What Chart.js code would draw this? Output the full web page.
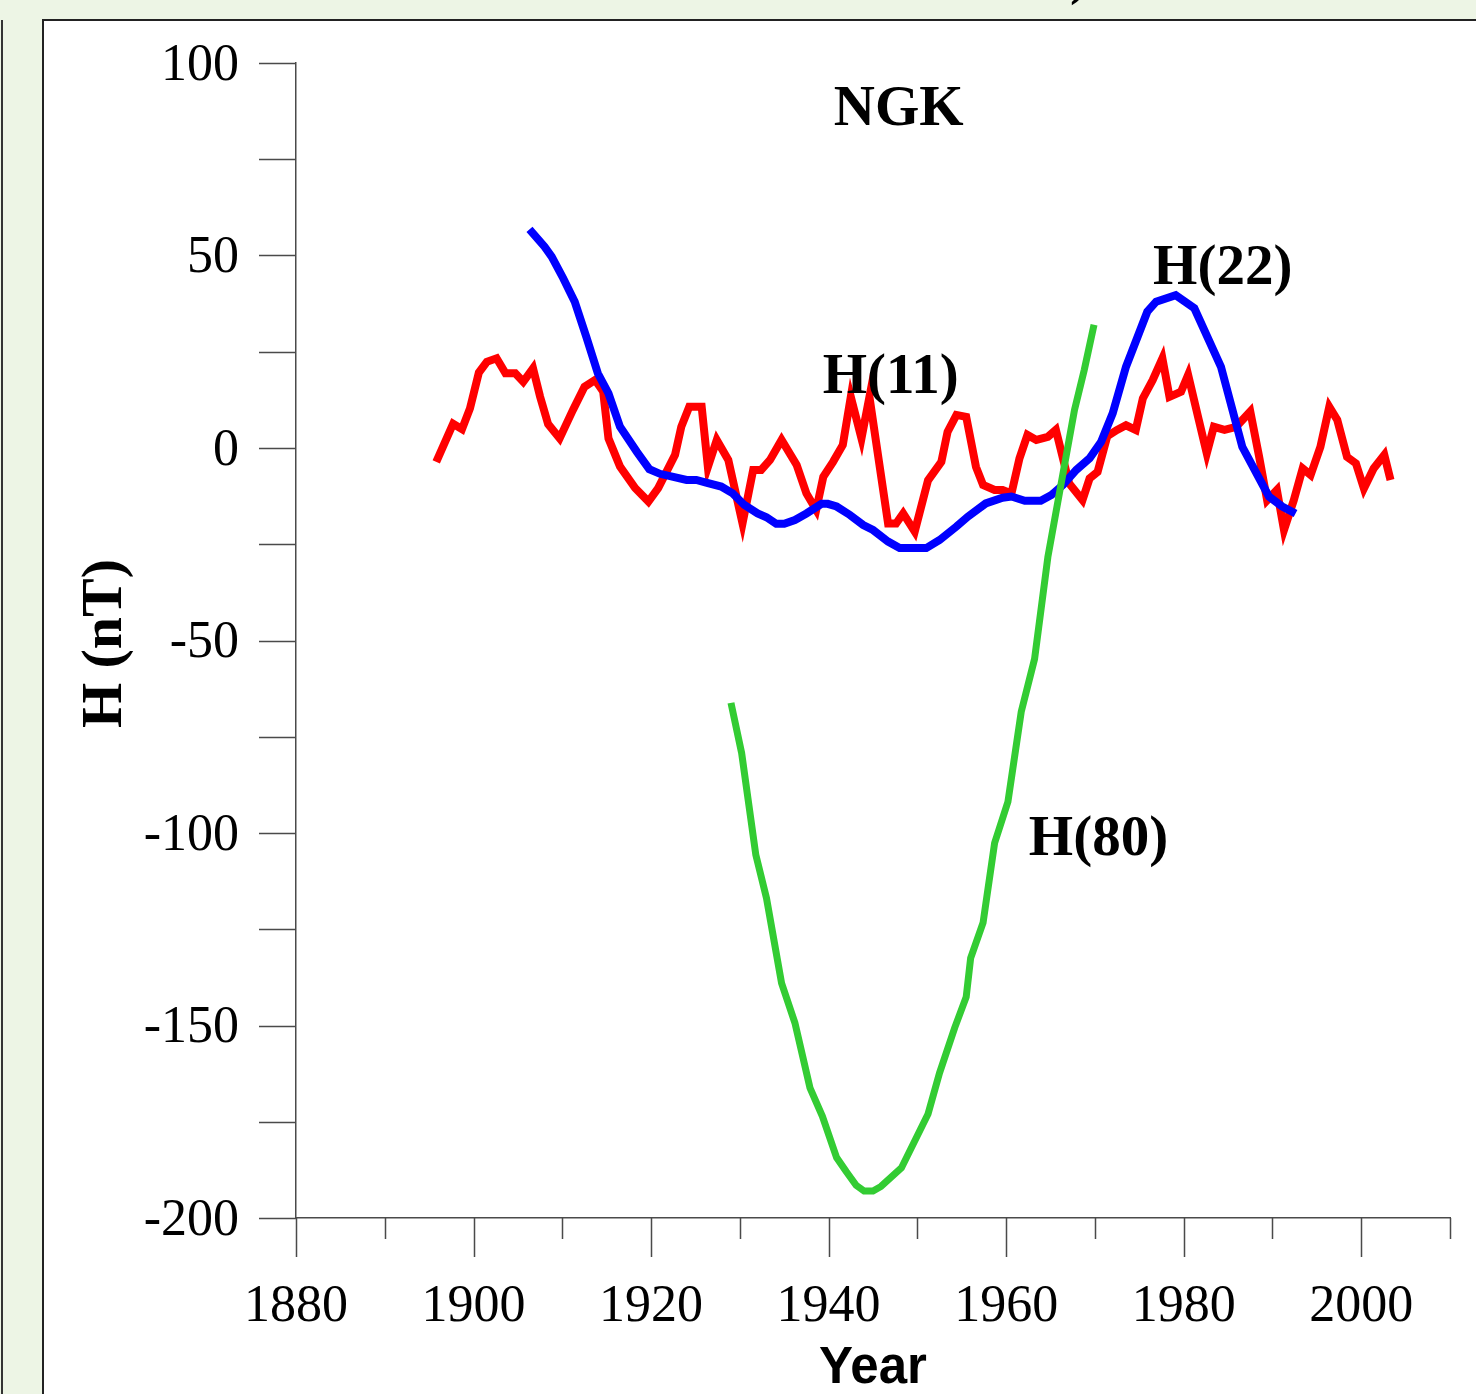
<!DOCTYPE html>
<html>
<head>
<meta charset="utf-8">
<title>NGK – H(11), H(22), H(80)</title>
<script src="https://cdn.jsdelivr.net/npm/chart.js@4.4.0/dist/chart.umd.min.js"></script>
<style>
  html, body { margin: 0; padding: 0; }
  body {
    position: relative;
    width: 1476px;
    height: 1394px;
    overflow: hidden;
    background: #edf5e5;
  }
  #side-rule {
    position: absolute;
    left: 1px; top: 20px;
    width: 2px; height: 1380px;
    background: #333;
  }
  #panel {
    position: absolute;
    left: 42px; top: 19px;
    width: 1460px; height: 1400px;
    background: #fff;
    border-left: 2px solid #222;
    border-top: 2px solid #222;
  }
  #cut-title {
    position: absolute;
    left: 1070px; top: -54px;
    font: bold 56px/56px "Liberation Serif", "Times New Roman", serif;
    color: #000;
  }
  #chart {
    position: absolute;
    left: 0; top: 0;
  }
</style>
</head>
<body>
<div id="side-rule"></div>
<div id="panel"></div>
<div id="cut-title">)</div>
<canvas id="chart" width="1476" height="1394"></canvas>

<script>
// =============================================
// Data (year, H in nT)
// =============================================
const h11Years = [
  1895.8, 1897.7, 1898.7, 1899.6, 1900.6, 1901.5, 1902.6, 1903.6, 1904.7, 1905.6,
  1906.7, 1907.5, 1908.4, 1909.7, 1911.2, 1912.5, 1913.7, 1914.6, 1915.2, 1916.5,
  1918.2, 1919.7, 1920.8, 1922.7, 1923.4, 1924.3, 1925.7, 1926.4, 1927.4, 1928.7,
  1930.3, 1931.5, 1932.4, 1933.4, 1934.7, 1936.4, 1937.5, 1938.6, 1939.4, 1940.5,
  1941.6, 1942.5, 1943.7, 1944.6, 1946.7, 1947.6, 1948.4, 1949.7, 1951.2, 1952.7,
  1953.4, 1954.4, 1955.5, 1956.6, 1957.4, 1958.7, 1959.6, 1960.6, 1961.5, 1962.4,
  1963.4, 1964.7, 1965.6, 1967.1, 1968.6, 1969.4, 1970.3, 1971.4, 1972.5, 1973.5,
  1974.6, 1975.4, 1976.5, 1977.6, 1978.4, 1979.7, 1980.5, 1981.7, 1982.6, 1983.4,
  1984.6, 1985.9, 1987.5, 1988.5, 1989.4, 1990.5, 1991.3, 1992.4, 1993.4, 1994.3,
  1995.4, 1996.4, 1997.3, 1998.4, 1999.4, 2000.3, 2001.4, 2002.6, 2003.3
];
const h11Values = [
  -3.6, 6.3, 4.9, 10.3, 19.6, 22.4, 23.3, 19.4, 19.4, 17.2,
  20.7, 13.3, 6.2, 2.5, 9.9, 15.9, 17.7, 14.7, 2.5, -4.8,
  -10.4, -13.9, -10.4, -1.8, 5.5, 10.7, 10.7, -4.9, 2.1, -3.1,
  -19.6, -5.7, -5.7, -3.1, 2.1, -4.4, -11.8, -16.1, -7.5, -3.6,
  0.8, 13.3, 2.5, 13.3, -19.6, -19.6, -17.0, -21.7, -8.4, -3.6,
  4.2, 8.6, 8.1, -4.9, -9.6, -10.9, -10.9, -11.8, -2.7, 3.4,
  2.1, 2.9, 4.7, -9.2, -13.5, -7.9, -6.2, 3.1, 4.7, 5.9,
  4.7, 12.9, 17.6, 23.3, 13.3, 14.6, 19.0, 7.3, -1.4, 5.5,
  4.7, 5.5, 9.5, -2.3, -13.6, -10.9, -21.3, -13.6, -5.3, -7.0,
  0.3, 10.7, 7.3, -2.3, -4.0, -10.5, -5.3, -1.8, -8.3
];

const h22Years = [
  1906.3, 1908.0, 1908.8, 1910.1, 1911.4, 1912.7, 1914.0, 1915.2, 1916.5, 1918.4,
  1919.8, 1921.0, 1922.5, 1924.0, 1925.1, 1926.2, 1927.9, 1929.2, 1930.5, 1932.0,
  1933.0, 1934.1, 1935.0, 1936.2, 1937.5, 1939.2, 1939.9, 1940.9, 1942.4, 1943.9,
  1945.0, 1946.7, 1948.0, 1951.0, 1952.5, 1954.4, 1955.7, 1957.7, 1959.6, 1960.6,
  1962.1, 1963.9, 1965.1, 1966.4, 1967.9, 1969.4, 1970.7, 1972.0, 1973.5, 1975.9,
  1976.9, 1979.1, 1981.2, 1984.2, 1986.6, 1989.6, 1991.1, 1992.6
];
const h22Values = [
  56.8, 52.3, 49.7, 44.1, 38.0, 28.9, 19.4, 14.2, 5.5, -1.0,
  -5.5, -6.7, -7.5, -8.3, -8.3, -9.0, -10.0, -11.8, -14.8, -17.0,
  -18.0, -19.7, -19.7, -18.7, -17.0, -14.5, -14.5, -15.2, -17.4, -20.0,
  -21.3, -24.3, -26.0, -26.0, -23.9, -20.4, -17.8, -14.4, -12.9, -12.6,
  -13.7, -13.7, -12.2, -9.6, -5.7, -2.7, 1.6, 9.0, 21.1, 35.4,
  38.0, 39.7, 36.3, 21.1, 0.3, -12.6, -15.2, -17.0
];

const h80Years = [
  1929.0, 1930.2, 1931.8, 1933.0, 1934.7, 1936.2, 1937.9, 1939.3, 1940.9, 1942.0,
  1943.1, 1944.0, 1945.0, 1945.9, 1948.2, 1951.2, 1952.5, 1954.2, 1955.5, 1956.0,
  1957.4, 1958.7, 1960.2, 1961.7, 1963.2, 1964.7, 1966.0, 1967.7, 1968.8, 1969.9
];
const h80Values = [
  -66.2, -79.2, -105.7, -116.9, -139.0, -149.3, -166.2, -173.6, -184.3, -188.0,
  -191.5, -193.0, -193.0, -191.8, -187.0, -173.0, -162.3, -150.6, -142.6, -132.5,
  -123.3, -102.6, -91.9, -68.5, -54.8, -28.3, -11.7, 9.9, 20.3, 32.0
];

// Text drawn inside the plot, anchored in data units (centre, baseline)
const plotLabels = [
  { text: 'NGK',   year: 1947.9, value: 84.0 },
  { text: 'H(11)', year: 1947.0, value: 14.3 },
  { text: 'H(22)', year: 1984.4, value: 42.6 },
  { text: 'H(80)', year: 1970.4, value: -105.7 }
];

const SERIF = '"Liberation Serif", "Times New Roman", serif';
const SANS  = '"Liberation Sans", Arial, sans-serif';
const AXIS_COLOR = '#4a4a4a';

function toPoints(xs, ys) {
  return xs.map((x, i) => ({ x, y: ys[i] }));
}

// =============================================
// Tick marks, axis titles and in-plot labels
// =============================================
const decorPlugin = {
  id: 'decor',
  afterDraw(chart) {
    const { ctx, chartArea, scales: { x, y } } = chart;
    ctx.save();

    // tick marks: long ones every 20 years, short ones in between
    ctx.strokeStyle = AXIS_COLOR;
    ctx.lineWidth = 1.5;
    ctx.beginPath();
    x.ticks.forEach(t => {
      const px = Math.round(x.getPixelForValue(t.value)) + 0.5;
      const len = t.value % 20 === 0 ? 39 : 21;
      ctx.moveTo(px, chartArea.bottom);
      ctx.lineTo(px, chartArea.bottom + len);
    });
    y.ticks.forEach(t => {
      const py = Math.round(y.getPixelForValue(t.value)) + 0.5;
      ctx.moveTo(chartArea.left - 37, py);
      ctx.lineTo(chartArea.left, py);
    });
    ctx.stroke();

    // axis titles
    ctx.fillStyle = '#000';
    ctx.textAlign = 'center';
    ctx.textBaseline = 'alphabetic';
    ctx.font = `bold 51px ${SANS}`;
    ctx.fillText('Year', (chartArea.left + chartArea.right) / 2, 1383);

    ctx.save();
    ctx.translate(121, (chartArea.top + chartArea.bottom) / 2 + 3);
    ctx.rotate(-Math.PI / 2);
    ctx.font = `bold 58px ${SERIF}`;
    ctx.fillText('H (nT)', 0, 0);
    ctx.restore();

    // station name and curve names
    ctx.font = `bold 57px ${SERIF}`;
    plotLabels.forEach(l => {
      ctx.fillText(l.text, x.getPixelForValue(l.year), y.getPixelForValue(l.value));
    });

    ctx.restore();
  }
};

// =============================================
// Chart
// =============================================
const lineStyle = {
  fill: false,
  tension: 0,
  pointRadius: 0,
  pointHoverRadius: 0,
  borderCapStyle: 'butt',
  borderJoinStyle: 'miter'
};

new Chart(document.getElementById('chart'), {
  type: 'line',
  data: {
    datasets: [
      { ...lineStyle, label: 'H(80)', data: toPoints(h80Years, h80Values), borderColor: '#33cc33', borderWidth: 7, order: 1 },
      { ...lineStyle, label: 'H(22)', data: toPoints(h22Years, h22Values), borderColor: '#0000ff', borderWidth: 8, order: 2 },
      { ...lineStyle, label: 'H(11)', data: toPoints(h11Years, h11Values), borderColor: '#ff0000', borderWidth: 8, order: 3 }
    ]
  },
  options: {
    responsive: false,
    animation: false,
    devicePixelRatio: 1,
    parsing: false,
    layout: { padding: { top: 63, right: 26, left: 0, bottom: 0 } },
    plugins: {
      legend: { display: false },
      tooltip: { enabled: false }
    },
    scales: {
      x: {
        type: 'linear',
        min: 1880,
        max: 2010,
        afterFit: (s) => { s.height = 176; },
        grid: { display: false, drawTicks: true, tickLength: 39 },
        border: { display: true, color: AXIS_COLOR, width: 1.5 },
        ticks: {
          stepSize: 10,
          autoSkip: false,
          maxRotation: 0,
          padding: 19,
          color: '#000',
          font: { family: SERIF, size: 52 },
          callback: (v) => (v % 20 === 0 ? String(v) : '')
        }
      },
      y: {
        type: 'linear',
        min: -200,
        max: 100,
        afterFit: (s) => { s.width = 296; },
        grid: { display: false, drawTicks: true, tickLength: 37 },
        border: { display: true, color: AXIS_COLOR, width: 1.5 },
        ticks: {
          stepSize: 25,
          autoSkip: false,
          padding: 20,
          labelOffset: 3,
          color: '#000',
          font: { family: SERIF, size: 52 },
          callback: (v) => (v % 50 === 0 ? String(v) : '')
        }
      }
    }
  },
  plugins: [decorPlugin]
});
</script>
</body>
</html>
